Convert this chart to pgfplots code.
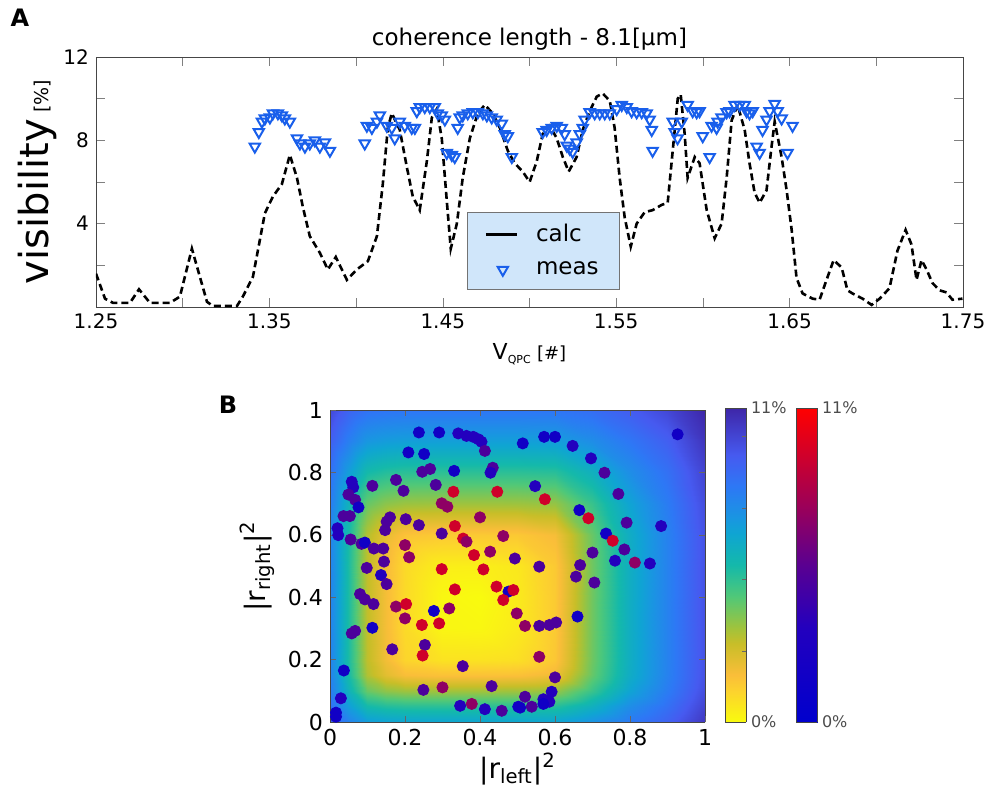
\documentclass[border=0pt]{standalone}
\usepackage{fontspec}
\setmainfont{DejaVu Sans}
\usepackage{pgfplots}
\pgfplotsset{compat=1.18}

\definecolor{measblue}{RGB}{25,95,235}
\definecolor{legfill}{RGB}{208,230,250}
\definecolor{axgray}{RGB}{70,70,70}

% flipped parula for the background map, blue-red for the dots
\pgfplotsset{
  colormap={parflip}{rgb255(0)=(249,251,14) rgb255(2)=(252,210,46) rgb255(3)=(250,190,57)
    rgb255(5)=(200,190,40) rgb255(6)=(160,195,60) rgb255(8)=(80,200,120) rgb255(10)=(20,185,170)
    rgb255(12)=(15,165,210) rgb255(13)=(25,150,225) rgb255(15)=(45,120,245) rgb255(17)=(70,90,240)
    rgb255(20)=(62,38,168)},
  colormap={bluered}{rgb255(0)=(0,0,205) rgb255(3)=(35,0,190) rgb255(5)=(90,0,145)
    rgb255(7)=(160,0,85) rgb255(10)=(255,0,0)},
  cbar/.style={
    scale only axis, width=10.5pt, height=157pt, anchor=north west,
    view={0}{90}, xmin=0, xmax=1, ymin=0, ymax=1, zmin=-1, zmax=1,
    xtick=\empty, ztick=\empty,
    ytick pos=right, yticklabel pos=right,
    tick align=inside, major tick length=2pt,
    axis line style={draw=axgray}, tick style={draw=black!60},
    yticklabel style={font=\fontsize{8}{9}\selectfont, text=black!70, xshift=-1pt},
    point meta min=0, point meta max=1,
  },
}

\begin{document}
\begin{tikzpicture}
\useasboundingbox (0,0) rectangle (499pt,-405pt);
\node[font=\bfseries\fontsize{12}{14}\selectfont] at (10pt,-9pt) {A};
\node[font=\bfseries\fontsize{12}{14}\selectfont] at (114pt,-202.5pt) {B};

% ---------------- panel A ----------------
\begin{axis}[
  at={(48pt,-28.5pt)}, anchor=north west,
  scale only axis, width=433.5pt, height=125pt,
  xmin=1.25, xmax=1.75, ymin=0, ymax=12,
  xtick={1.25,1.35,1.45,1.55,1.65,1.75},
  minor xtick={1.30,1.40,1.50,1.60,1.70},
  ytick={4,8,12}, minor ytick={2,6,10},
  tick align=inside, major tick length=4.5pt, minor tick length=4.5pt,
  axis line style={draw=axgray}, tick style={draw=black!50},
  xticklabel style={/pgf/number format/.cd, fixed, fixed zerofill, precision=2, assume math mode=true},
  yticklabel style={/pgf/number format/assume math mode=true},
  tick label style={font=\fontsize{10}{12}\selectfont},
  title={coherence length - 8.1[μm]},
  title style={font=\fontsize{11.5}{13}\selectfont, yshift=-6pt},
  xlabel={{\fontsize{11}{13}\selectfont V}\raisebox{-2pt}{\fontsize{5.5}{6}\selectfont QPC} {\fontsize{9}{11}\selectfont [\#]}},
  xlabel style={yshift=-0.5pt},
  ylabel={{\fontsize{20}{24}\selectfont visibility} {\fontsize{9.5}{11}\selectfont [\%]}},
  ylabel style={at={(axis description cs:-0.067,0.5)}, anchor=center},
  legend style={at={(0.428,0.38)}, anchor=north west, fill=legfill, draw=black!55,
    font=\fontsize{11.5}{13}\selectfont, inner xsep=8.5pt, inner ysep=4pt, row sep=4.5pt,
    /tikz/every odd column/.append style={column sep=7pt}},
  legend cell align=left,
]
\addplot[black, line width=1.3pt, dash pattern=on 3.5pt off 2pt,
  legend image code/.code={\draw[black, solid, line width=1.3pt] (0pt,0pt) -- (15.5pt,0pt);}]
coordinates {
(1.2500,1.6) (1.2552,0.4) (1.2598,0.2) (1.2696,0.2) (1.2748,0.85) (1.2811,0.2)
(1.2927,0.2) (1.2984,0.5) (1.3053,2.8) (1.3140,0.25) (1.3174,0.05) (1.3313,0.05)
(1.3347,0.5) (1.3405,1.45) (1.3474,4.5) (1.3520,5.3) (1.3572,5.9) (1.3618,7.3)
(1.3659,6.2) (1.3693,4.8) (1.3733,3.4) (1.3791,2.6) (1.3837,1.8) (1.3883,2.4)
(1.3947,1.3) (1.4004,1.8) (1.4068,2.2) (1.4120,3.4) (1.4154,5.9) (1.4183,8.6)
(1.4206,9.3) (1.4252,8.5) (1.4293,6.7) (1.4327,5.3) (1.4367,4.65) (1.4408,7.0)
(1.4437,9.1) (1.4465,9.5) (1.4494,8.1) (1.4523,5.1) (1.4546,2.8) (1.4581,4.0)
(1.4615,6.2) (1.4656,8.1) (1.4702,9.3) (1.4742,9.7) (1.4788,9.3) (1.4829,8.6)
(1.4875,7.5) (1.4915,6.9) (1.4961,6.5) (1.5001,6.0) (1.5042,7.0) (1.5076,8.3)
(1.5117,8.7) (1.5157,8.1) (1.5192,7.2) (1.5226,6.5) (1.5272,7.2) (1.5307,8.5)
(1.5347,9.4) (1.5388,10.1) (1.5422,10.25) (1.5463,9.9) (1.5491,8.6) (1.5520,6.2)
(1.5549,4.3) (1.5584,2.9) (1.5618,4.0) (1.5664,4.55) (1.5710,4.65) (1.5762,4.9)
(1.5797,5.0) (1.5826,7.5) (1.5855,10.0) (1.5872,10.2) (1.5895,8.3) (1.5912,6.2)
(1.5953,7.2) (1.5981,6.9) (1.6022,4.65) (1.6068,3.3) (1.6108,4.0) (1.6137,6.2)
(1.6166,8.96) (1.6200,9.7) (1.6241,8.5) (1.6269,6.9) (1.6298,5.5) (1.6327,5.0)
(1.6367,5.6) (1.6396,7.7) (1.6414,8.9) (1.6454,7.2) (1.6483,5.6) (1.6512,3.7)
(1.6540,1.4) (1.6575,0.65) (1.6633,0.4) (1.6673,0.35) (1.6713,1.3) (1.6754,2.25)
(1.6800,1.9) (1.6834,0.8) (1.6863,0.65) (1.6921,0.4) (1.6973,0.1) (1.7019,0.4)
(1.7076,0.9) (1.7122,2.7) (1.7169,3.7) (1.7203,3.0) (1.7232,1.3) (1.7261,2.25)
(1.7290,1.8) (1.7324,1.15) (1.7365,0.8) (1.7405,0.7) (1.7439,0.35) (1.7497,0.4)
};
\addlegendentry{calc}
\addplot[only marks, mark=triangle, mark size=3pt,
  mark options={rotate=180, draw=measblue, line width=1pt, fill=none}]
coordinates {
(1.3416,7.7) (1.3439,8.4) (1.3457,8.9) (1.3474,9.05) (1.3503,9.1) (1.3520,9.3)
(1.3549,9.3) (1.3572,9.2) (1.3589,9.05) (1.3618,8.9) (1.3659,8.1) (1.3676,7.85)
(1.3705,7.7) (1.3733,7.85) (1.3762,8.0) (1.3791,7.7) (1.3820,7.9) (1.3849,7.5)
(1.4050,7.85) (1.4062,8.7) (1.4091,8.6) (1.4120,8.9) (1.4137,9.2) (1.4177,8.7)
(1.4206,8.6) (1.4223,8.1) (1.4252,8.9) (1.4281,8.7) (1.4321,8.6) (1.4339,8.6)
(1.4350,9.4) (1.4367,9.6) (1.4396,9.6) (1.4425,9.6) (1.4454,9.6) (1.4471,9.3)
(1.4494,9.2) (1.4512,9.0) (1.4523,7.4) (1.4552,7.3) (1.4569,7.2) (1.4586,8.6)
(1.4598,9.1) (1.4615,9.2) (1.4644,9.3) (1.4673,9.35) (1.4702,9.35) (1.4731,9.3)
(1.4754,9.2) (1.4782,9.1) (1.4811,9.0) (1.4840,8.8) (1.4857,8.3) (1.4875,8.2)
(1.4898,7.2) (1.5076,8.4) (1.5099,8.5) (1.5128,8.6) (1.5157,8.7) (1.5186,8.6)
(1.5203,8.3) (1.5215,7.75) (1.5232,7.6) (1.5249,7.45) (1.5272,7.9) (1.5290,8.3)
(1.5307,8.6) (1.5318,9.0) (1.5347,9.35) (1.5376,9.3) (1.5405,9.3) (1.5434,9.3)
(1.5463,9.3) (1.5503,9.5) (1.5532,9.7) (1.5561,9.6) (1.5589,9.4) (1.5618,9.35)
(1.5647,9.35) (1.5676,9.3) (1.5693,9.0) (1.5705,8.5) (1.5710,7.5) (1.5826,8.9)
(1.5837,8.4) (1.5854,8.1) (1.5878,8.9) (1.5912,9.7) (1.5941,9.4) (1.5964,9.35)
(1.5981,9.4) (1.5999,8.2) (1.6039,7.2) (1.6050,8.7) (1.6079,8.6) (1.6085,8.9)
(1.6108,9.1) (1.6137,9.35) (1.6154,9.4) (1.6183,9.7) (1.6212,9.7) (1.6241,9.7)
(1.6252,9.4) (1.6269,9.3) (1.6287,9.4) (1.6310,7.7) (1.6327,7.4) (1.6344,8.5)
(1.6367,9.0) (1.6385,9.4) (1.6414,9.75) (1.6431,9.4) (1.6454,9.05) (1.6488,7.4)
(1.6517,8.7)
};
\addlegendentry{meas}
\end{axis}

% ---------------- panel B: background map ----------------
\begin{axis}[
  at={(165pt,-205pt)}, anchor=north west,
  scale only axis, width=187.5pt, height=156pt,
  view={0}{90},
  xmin=0, xmax=1, ymin=0, ymax=1,
  xtick={0,0.2,0.4,0.6,0.8,1}, ytick={0,0.2,0.4,0.6,0.8,1}, ztick=\empty,
  tick align=inside, major tick length=3pt,
  axis line style={draw=axgray}, tick style={draw=black!60},
  tick label style={font=\fontsize{11}{13}\selectfont, /pgf/number format/assume math mode=true},
  axis on top,
  colormap name=parflip,
  point meta min=0, point meta max=1,
  xlabel={|r\textsubscript{left}|\textsuperscript{2}},
  ylabel={|r\textsubscript{right}|\textsuperscript{2}},
  label style={font=\fontsize{14}{16}\selectfont},
  xlabel style={yshift=3pt},
]
\addplot3[surf, shader=interp, mesh/cols=13, point meta=\thisrow{v}]
table[row sep=\\, x=x, y=y, z=v] {
x y v\\
0 0 0.823\\ 0.05 0 0.713\\ 0.1 0 0.629\\ 0.15 0 0.609\\ 0.2 0 0.602\\ 0.3 0 0.600\\ 0.4 0 0.600\\ 0.5 0 0.600\\ 0.6 0 0.604\\ 0.7 0 0.662\\ 0.8 0 0.746\\ 0.9 0 0.823\\ 1 0 0.952\\
0 0.05 0.774\\ 0.05 0.05 0.620\\ 0.1 0.05 0.501\\ 0.15 0.05 0.473\\ 0.2 0.05 0.462\\ 0.3 0.05 0.460\\ 0.4 0.05 0.460\\ 0.5 0.05 0.460\\ 0.6 0.05 0.466\\ 0.7 0.05 0.547\\ 0.8 0.05 0.678\\ 0.9 0.05 0.774\\ 1 0.05 0.916\\
0 0.1 0.736\\ 0.05 0.1 0.535\\ 0.1 0.1 0.371\\ 0.15 0.1 0.323\\ 0.2 0.1 0.304\\ 0.3 0.1 0.300\\ 0.4 0.1 0.300\\ 0.5 0.1 0.301\\ 0.6 0.1 0.312\\ 0.7 0.1 0.438\\ 0.8 0.1 0.604\\ 0.9 0.1 0.736\\ 1 0.1 0.890\\
0 0.15 0.717\\ 0.05 0.15 0.489\\ 0.1 0.15 0.281\\ 0.15 0.15 0.198\\ 0.2 0.15 0.153\\ 0.3 0.15 0.140\\ 0.4 0.15 0.140\\ 0.5 0.15 0.142\\ 0.6 0.15 0.172\\ 0.7 0.15 0.373\\ 0.8 0.15 0.567\\ 0.9 0.15 0.717\\ 1 0.15 0.877\\
0 0.2 0.715\\ 0.05 0.2 0.481\\ 0.1 0.2 0.263\\ 0.15 0.2 0.165\\ 0.2 0.2 0.094\\ 0.3 0.2 0.061\\ 0.4 0.2 0.060\\ 0.5 0.2 0.068\\ 0.6 0.2 0.128\\ 0.7 0.2 0.362\\ 0.8 0.2 0.561\\ 0.9 0.2 0.715\\ 1 0.2 0.875\\
0 0.3 0.715\\ 0.05 0.3 0.480\\ 0.1 0.3 0.260\\ 0.15 0.3 0.160\\ 0.2 0.3 0.080\\ 0.3 0.3 0.013\\ 0.4 0.3 0.010\\ 0.5 0.3 0.040\\ 0.6 0.3 0.120\\ 0.7 0.3 0.360\\ 0.8 0.3 0.560\\ 0.9 0.3 0.715\\ 1 0.3 0.875\\
0 0.4 0.715\\ 0.05 0.4 0.480\\ 0.1 0.4 0.260\\ 0.15 0.4 0.160\\ 0.2 0.4 0.080\\ 0.3 0.4 0.010\\ 0.4 0.4 0.000\\ 0.5 0.4 0.040\\ 0.6 0.4 0.120\\ 0.7 0.4 0.360\\ 0.8 0.4 0.560\\ 0.9 0.4 0.715\\ 1 0.4 0.875\\
0 0.5 0.715\\ 0.05 0.5 0.480\\ 0.1 0.5 0.261\\ 0.15 0.5 0.161\\ 0.2 0.5 0.083\\ 0.3 0.5 0.031\\ 0.4 0.5 0.030\\ 0.5 0.5 0.047\\ 0.6 0.5 0.122\\ 0.7 0.5 0.360\\ 0.8 0.5 0.560\\ 0.9 0.5 0.715\\ 1 0.5 0.875\\
0 0.6 0.716\\ 0.05 0.6 0.486\\ 0.1 0.6 0.275\\ 0.15 0.6 0.187\\ 0.2 0.6 0.136\\ 0.3 0.6 0.120\\ 0.4 0.6 0.120\\ 0.5 0.6 0.123\\ 0.6 0.6 0.158\\ 0.7 0.6 0.369\\ 0.8 0.6 0.565\\ 0.9 0.6 0.716\\ 1 0.6 0.876\\
0 0.7 0.736\\ 0.05 0.7 0.535\\ 0.1 0.7 0.371\\ 0.15 0.7 0.323\\ 0.2 0.7 0.304\\ 0.3 0.7 0.300\\ 0.4 0.7 0.300\\ 0.5 0.7 0.301\\ 0.6 0.7 0.312\\ 0.7 0.7 0.438\\ 0.8 0.7 0.604\\ 0.9 0.7 0.736\\ 1 0.7 0.890\\
0 0.8 0.774\\ 0.05 0.8 0.620\\ 0.1 0.8 0.501\\ 0.15 0.8 0.473\\ 0.2 0.8 0.462\\ 0.3 0.8 0.460\\ 0.4 0.8 0.460\\ 0.5 0.8 0.460\\ 0.6 0.8 0.466\\ 0.7 0.8 0.547\\ 0.8 0.8 0.678\\ 0.9 0.8 0.774\\ 1 0.8 0.916\\
0 0.9 0.832\\ 0.05 0.9 0.724\\ 0.1 0.9 0.647\\ 0.15 0.9 0.628\\ 0.2 0.9 0.621\\ 0.3 0.9 0.620\\ 0.4 0.9 0.620\\ 0.5 0.9 0.620\\ 0.6 0.9 0.624\\ 0.7 0.9 0.679\\ 0.8 0.9 0.756\\ 0.9 0.9 0.832\\ 1 0.9 0.958\\
0 1 0.904\\ 0.05 1 0.816\\ 0.1 1 0.770\\ 0.15 1 0.760\\ 0.2 1 0.757\\ 0.3 1 0.756\\ 0.4 1 0.756\\ 0.5 1 0.756\\ 0.6 1 0.758\\ 0.7 1 0.786\\ 0.8 1 0.841\\ 0.9 1 0.904\\ 1 1 1.000\\
};
\end{axis}

% ---------------- panel B: measured points ----------------
\begin{axis}[
  at={(165pt,-205pt)}, anchor=north west,
  scale only axis, width=187.5pt, height=156pt,
  xmin=0, xmax=1, ymin=0, ymax=1,
  hide axis,
  colormap name=bluered,
  point meta min=0, point meta max=1,
]
\addplot[scatter, only marks, mark=*, mark size=2.8pt, scatter src=explicit,
  scatter/use mapped color={draw=mapped color, fill=mapped color}]
table[row sep=\\, meta=c] {
x y c\\
0.237 0.928 0.15\\ 0.291 0.928 0.15\\ 0.342 0.925 0.3\\ 0.364 0.917 0.3\\ 0.382 0.914 0.3\\
0.396 0.906 0.3\\ 0.404 0.898 0.3\\ 0.413 0.869 0.45\\ 0.209 0.864 0.15\\ 0.251 0.859 0.15\\
0.246 0.802 0.45\\ 0.267 0.811 0.45\\ 0.331 0.805 0.15\\ 0.434 0.815 0.45\\ 0.428 0.799 0.3\\
0.058 0.770 0.3\\ 0.062 0.752 0.3\\ 0.113 0.757 0.45\\ 0.176 0.776 0.45\\ 0.196 0.741 0.45\\
0.282 0.760 0.45\\ 0.329 0.738 0.85\\ 0.446 0.738 0.85\\ 0.049 0.729 0.45\\ 0.067 0.712 0.45\\
0.076 0.688 0.15\\ 0.298 0.701 0.65\\ 0.313 0.690 0.65\\ 0.036 0.660 0.45\\ 0.053 0.660 0.45\\
0.160 0.656 0.45\\ 0.151 0.642 0.45\\ 0.202 0.650 0.45\\ 0.400 0.656 0.65\\ 0.237 0.631 0.45\\
0.333 0.628 0.85\\ 0.147 0.615 0.45\\ 0.020 0.621 0.3\\ 0.022 0.599 0.3\\ 0.055 0.585 0.45\\
0.084 0.571 0.45\\ 0.093 0.575 0.15\\ 0.117 0.556 0.45\\ 0.142 0.556 0.45\\ 0.144 0.514 0.45\\
0.200 0.567 0.65\\ 0.211 0.528 0.65\\ 0.298 0.604 0.45\\ 0.355 0.588 0.85\\ 0.364 0.578 0.65\\
0.384 0.535 0.85\\ 0.427 0.546 0.65\\ 0.462 0.596 0.65\\ 0.493 0.524 0.45\\ 0.098 0.494 0.45\\
0.298 0.490 0.85\\ 0.409 0.489 0.85\\ 0.136 0.471 0.3\\ 0.151 0.442 0.45\\ 0.333 0.425 0.85\\
0.080 0.410 0.45\\ 0.093 0.393 0.45\\ 0.116 0.378 0.45\\ 0.176 0.370 0.65\\ 0.203 0.378 0.85\\
0.200 0.332 0.65\\ 0.277 0.356 0.15\\ 0.318 0.364 0.65\\ 0.291 0.316 0.85\\ 0.245 0.311 0.85\\
0.067 0.292 0.45\\ 0.058 0.284 0.45\\ 0.113 0.302 0.15\\ 0.166 0.233 0.45\\ 0.253 0.247 0.45\\
0.247 0.213 0.85\\ 0.354 0.179 0.45\\ 0.037 0.165 0.15\\ 0.249 0.103 0.45\\ 0.300 0.111 0.65\\
0.431 0.115 0.45\\ 0.029 0.076 0.3\\ 0.016 0.030 0.15\\ 0.016 0.017 0.15\\ 0.347 0.052 0.3\\
0.378 0.058 0.65\\ 0.413 0.041 0.3\\ 0.458 0.036 0.45\\ 0.476 0.418 0.15\\ 0.489 0.423 0.85\\
0.462 0.391 0.85\\ 0.498 0.348 0.65\\ 0.444 0.434 0.85\\ 0.502 0.049 0.15\\ 0.514 0.893 0.15\\
0.571 0.914 0.15\\ 0.600 0.914 0.15\\ 0.647 0.885 0.3\\ 0.696 0.845 0.3\\ 0.732 0.799 0.45\\
0.769 0.731 0.45\\ 0.927 0.922 0.15\\ 0.547 0.756 0.3\\ 0.573 0.714 0.85\\ 0.665 0.679 0.15\\
0.689 0.653 0.85\\ 0.791 0.639 0.45\\ 0.883 0.628 0.3\\ 0.736 0.604 0.15\\ 0.754 0.581 0.85\\
0.785 0.553 0.45\\ 0.700 0.543 0.45\\ 0.760 0.517 0.3\\ 0.813 0.511 0.65\\ 0.853 0.508 0.3\\
0.558 0.498 0.45\\ 0.667 0.503 0.45\\ 0.656 0.466 0.45\\ 0.705 0.447 0.45\\ 0.520 0.308 0.65\\
0.558 0.308 0.45\\ 0.585 0.311 0.45\\ 0.603 0.319 0.45\\ 0.660 0.338 0.15\\ 0.558 0.209 0.65\\
0.600 0.143 0.45\\ 0.591 0.097 0.3\\ 0.520 0.081 0.45\\ 0.538 0.049 0.45\\ 0.507 0.046 0.15\\
0.569 0.073 0.3\\ 0.585 0.065 0.3\\ 0.569 0.058 0.15\\
};
\end{axis}

% ---------------- colour scales ----------------
\begin{axis}[cbar, at={(362.5pt,-204pt)}, colormap name=parflip,
  ytick={0,0.227,0.455,0.682,0.909,1}, yticklabels={0\%,,,,,11\%}]
\addplot3[surf, shader=interp, mesh/cols=2, point meta=y]
coordinates {(0,0,0) (1,0,0) (0,1,0) (1,1,0)};
\end{axis}
\begin{axis}[cbar, at={(398pt,-204pt)}, colormap name=bluered,
  ytick={0,1}, yticklabels={0\%,11\%}, major tick length=0pt]
\addplot3[surf, shader=interp, mesh/cols=2, point meta=y]
coordinates {(0,0,0) (1,0,0) (0,1,0) (1,1,0)};
\end{axis}
\end{tikzpicture}
\end{document}
